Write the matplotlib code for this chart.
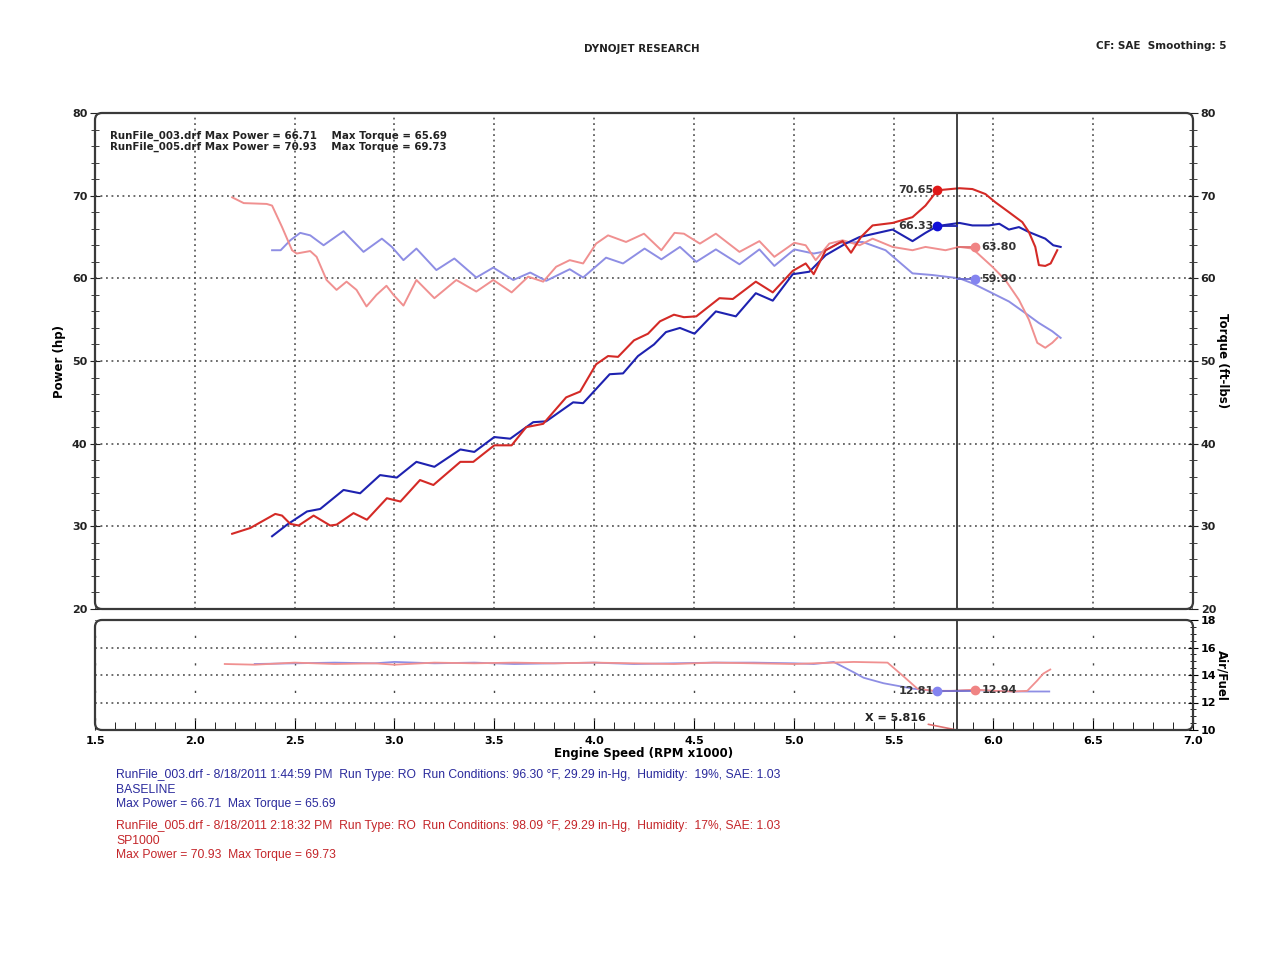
import numpy as np
import matplotlib
matplotlib.use("Agg")
import matplotlib.pyplot as plt
from matplotlib.ticker import MultipleLocator
from matplotlib.patches import FancyBboxPatch
from matplotlib.transforms import IdentityTransform

# ---- data (rpm x1000) ----
pwr_base_rpm = [2.387, 2.462, 2.562, 2.628, 2.745, 2.828, 2.928, 3.012, 3.11, 3.20, 3.33, 3.40,
                3.50, 3.58, 3.695, 3.76, 3.895, 3.945, 4.078, 4.145, 4.22, 4.30, 4.36, 4.43,
                4.503, 4.61, 4.71, 4.81, 4.895, 4.995, 5.078, 5.16, 5.26, 5.33, 5.495, 5.595,
                5.66, 5.72, 5.83, 5.895, 5.978, 6.03, 6.078, 6.128, 6.178, 6.26, 6.30, 6.337]
pwr_base = [28.8, 30.2, 31.8, 32.1, 34.4, 34.0, 36.2, 35.9, 37.8, 37.2, 39.3, 39.0,
            40.8, 40.6, 42.6, 42.7, 45.0, 44.9, 48.4, 48.5, 50.6, 52.0, 53.5, 54.0,
            53.3, 56.0, 55.4, 58.2, 57.3, 60.5, 60.8, 62.8, 64.2, 65.0, 65.9, 64.5,
            65.5, 66.33, 66.7, 66.4, 66.4, 66.6, 65.9, 66.2, 65.6, 64.8, 64.0, 63.8]

pwr_sp_rpm = [2.187, 2.278, 2.403, 2.437, 2.478, 2.52, 2.595, 2.678, 2.71, 2.795, 2.862, 2.962,
              3.03, 3.128, 3.195, 3.33, 3.395, 3.50, 3.587, 3.66, 3.745, 3.86, 3.93, 4.01,
              4.07, 4.12, 4.20, 4.27, 4.33, 4.40, 4.45, 4.512, 4.628, 4.695, 4.81, 4.895,
              4.995, 5.06, 5.10, 5.16, 5.245, 5.287, 5.337, 5.395, 5.495, 5.595, 5.66, 5.72,
              5.83, 5.895, 5.96, 6.01, 6.078, 6.145, 6.178, 6.21, 6.228, 6.26, 6.287, 6.32]
pwr_sp = [29.1, 29.8, 31.5, 31.3, 30.3, 30.1, 31.3, 30.1, 30.2, 31.6, 30.8, 33.4,
          33.0, 35.6, 35.0, 37.8, 37.8, 39.8, 39.8, 42.0, 42.4, 45.6, 46.3, 49.6,
          50.6, 50.5, 52.5, 53.3, 54.8, 55.6, 55.3, 55.4, 57.6, 57.5, 59.6, 58.3,
          60.9, 61.8, 60.5, 63.4, 64.5, 63.1, 65.0, 66.4, 66.7, 67.4, 68.8, 70.65,
          70.9, 70.8, 70.2, 69.2, 68.0, 66.8, 65.6, 63.8, 61.6, 61.5, 61.8, 63.4]

trq_base_rpm = [2.387, 2.43, 2.478, 2.528, 2.578, 2.645, 2.745, 2.845, 2.937, 2.987, 3.045, 3.11,
                3.21, 3.30, 3.41, 3.495, 3.595, 3.68, 3.76, 3.878, 3.945, 4.06, 4.145, 4.253,
                4.337, 4.43, 4.512, 4.61, 4.728, 4.828, 4.903, 5.003, 5.10, 5.145, 5.228, 5.345,
                5.46, 5.595, 5.695, 5.83, 5.895, 5.995, 6.078, 6.16, 6.228, 6.295, 6.337]
trq_base = [63.4, 63.4, 64.6, 65.5, 65.2, 64.0, 65.7, 63.2, 64.8, 63.8, 62.2, 63.6,
            61.0, 62.4, 60.1, 61.3, 59.8, 60.7, 59.7, 61.1, 60.1, 62.5, 61.8, 63.6,
            62.3, 63.8, 62.0, 63.5, 61.7, 63.5, 61.5, 63.5, 63.0, 63.2, 64.3, 64.4,
            63.4, 60.6, 60.4, 60.0, 59.4, 58.2, 57.2, 55.8, 54.6, 53.6, 52.8]

trq_sp_rpm = [2.187, 2.245, 2.36, 2.387, 2.437, 2.487, 2.51, 2.578, 2.61, 2.66, 2.71, 2.76,
              2.81, 2.86, 2.91, 2.96, 2.995, 3.045, 3.11, 3.20, 3.31, 3.41, 3.495, 3.587,
              3.67, 3.745, 3.81, 3.878, 3.945, 4.01, 4.07, 4.16, 4.25, 4.337, 4.403, 4.45,
              4.53, 4.61, 4.728, 4.828, 4.903, 5.003, 5.06, 5.11, 5.178, 5.245, 5.33, 5.395,
              5.495, 5.595, 5.66, 5.76, 5.83, 5.895, 5.995, 6.06, 6.128, 6.178, 6.22, 6.26,
              6.295, 6.32]
trq_sp = [69.8, 69.1, 69.0, 68.8, 66.2, 63.4, 63.0, 63.3, 62.6, 59.8, 58.6, 59.6,
          58.6, 56.6, 58.0, 59.1, 58.0, 56.7, 59.8, 57.6, 59.8, 58.4, 59.8, 58.3,
          60.2, 59.6, 61.4, 62.2, 61.8, 64.2, 65.2, 64.4, 65.4, 63.4, 65.5, 65.4,
          64.2, 65.4, 63.2, 64.5, 62.6, 64.3, 64.0, 62.2, 64.2, 64.6, 64.0, 64.8,
          63.8, 63.4, 63.8, 63.4, 63.8, 63.6, 61.4, 59.8, 57.4, 55.0, 52.2, 51.6,
          52.2, 52.8]

afr_base_rpm = [2.30, 2.5, 2.7, 2.9, 3.0, 3.2, 3.4, 3.6, 3.8, 4.0, 4.2, 4.4, 4.6, 4.8,
                5.0, 5.1, 5.2, 5.3, 5.35, 5.45, 5.6, 5.72, 5.8, 5.9, 6.0, 6.1, 6.28]
afr_base = [14.8, 14.85, 14.9, 14.85, 14.95, 14.85, 14.9, 14.8, 14.85, 14.9, 14.8, 14.85, 14.9, 14.9,
            14.85, 14.8, 14.95, 14.2, 13.8, 13.4, 13.0, 12.81, 12.85, 12.9, 12.85, 12.8, 12.8]
afr_sp_rpm = [2.15, 2.3, 2.5, 2.7, 2.9, 3.0, 3.2, 3.4, 3.6, 3.8, 4.0, 4.2, 4.4, 4.6, 4.8,
              5.0, 5.2, 5.3, 5.47, 5.55, 5.62, 5.7, 5.8, 5.91, 6.0, 6.1, 6.17, 6.22, 6.25, 6.285]
afr_sp = [14.8, 14.75, 14.9, 14.8, 14.85, 14.75, 14.9, 14.85, 14.9, 14.85, 14.9, 14.85, 14.8, 14.9, 14.85,
          14.8, 14.9, 14.95, 14.9, 13.9, 13.0, 12.85, 12.85, 12.94, 12.85, 12.8, 12.85, 13.6, 14.1, 14.4]

cursor_rpm = 5.816

C_RED = "#d42a26"
C_BLUE = "#1e22b0"
C_LRED = "#f09090"
C_LBLUE = "#8e8ee4"
GRID = "#444444"

fig = plt.figure(figsize=(12.8, 9.6), dpi=100)
ax = fig.add_axes([95/1280, 1-609/960, 1098/1280, 496/960])
ax2 = fig.add_axes([95/1280, 1-730/960, 1098/1280, 110/960])

# rounded frames like the Dynojet printout (pixel coordinates)
for (x0, y0, w, h) in [(95, 960-609, 1098, 496), (95, 960-730, 1098, 110)]:
    fig.patches.append(FancyBboxPatch((x0, y0), w, h, boxstyle="round,pad=0,rounding_size=7",
                                      transform=IdentityTransform(), fill=False,
                                      edgecolor="#3a3a3a", linewidth=1.6, zorder=10))

# ---- main power / torque panel ----
ax.plot(trq_base_rpm, trq_base, color=C_LBLUE, lw=1.4, zorder=3)
ax.plot(trq_sp_rpm, trq_sp, color=C_LRED, lw=1.4, zorder=3)
ax.plot(pwr_base_rpm, pwr_base, color=C_BLUE, lw=1.5, zorder=4)
ax.plot(pwr_sp_rpm, pwr_sp, color=C_RED, lw=1.5, zorder=5)

ax.set_xlim(1.5, 7.0)
ax.set_ylim(20, 80)
ax.xaxis.set_major_locator(MultipleLocator(0.5))
ax.yaxis.set_major_locator(MultipleLocator(10))
ax.yaxis.set_minor_locator(MultipleLocator(2))
ax.grid(True, which="major", color=GRID, linestyle=(0, (1.2, 2.4)), linewidth=1.1)
ax.tick_params(axis="x", bottom=False, labelbottom=False)
ax.tick_params(axis="y", which="both", left=True, right=True, labelleft=True, labelright=True,
               direction="inout", labelsize=8, colors="#222222", pad=2)
ax.tick_params(axis="y", which="major", length=7)
ax.tick_params(axis="y", which="minor", length=6)
for lab in ax.get_yticklabels():
    lab.set_fontweight("bold")
for s in ax.spines.values():
    s.set_visible(False)
ax.axvline(cursor_rpm, color="#222222", lw=1.2, zorder=6)

fig.text(60/1280, 1-361/960, "Power (hp)", rotation=90, fontsize=8.5, fontweight="bold",
         ha="center", va="center")
fig.text(1222/1280, 1-361/960, "Torque (ft-lbs)", rotation=-90, fontsize=8.5, fontweight="bold",
         ha="center", va="center")

# cursor readouts
ax.plot([5.72], [70.65], "o", color="#e01818", ms=6, zorder=7)
ax.text(5.70, 70.65, "70.65", ha="right", va="center", fontsize=8, fontweight="bold", color="#333333")
ax.plot([5.72, cursor_rpm], [66.33, 66.33], color=C_BLUE, lw=1.3, zorder=6)
ax.plot([5.72], [66.33], "o", color="#1010d8", ms=6, zorder=7)
ax.text(5.70, 66.33, "66.33", ha="right", va="center", fontsize=8, fontweight="bold", color="#333333")
ax.plot([cursor_rpm, 5.91], [63.80, 63.80], color="#e07070", lw=1.3, zorder=6)
ax.plot([5.91], [63.80], "o", color="#f08484", ms=6, zorder=7)
ax.text(5.94, 63.80, "63.80", ha="left", va="center", fontsize=8, fontweight="bold", color="#333333")
ax.plot([cursor_rpm, 5.91], [59.90, 59.90], color="#6a6ad0", lw=1.3, zorder=6)
ax.plot([5.91], [59.90], "o", color="#8484f0", ms=6, zorder=7)
ax.text(5.94, 59.90, "59.90", ha="left", va="center", fontsize=8, fontweight="bold", color="#333333")

ax.text(15/1098, 0.965, "RunFile_003.drf Max Power = 66.71    Max Torque = 65.69\n"
        "RunFile_005.drf Max Power = 70.93    Max Torque = 69.73",
        transform=ax.transAxes, ha="left", va="top", fontsize=7.4, fontweight="bold",
        color="#222222", linespacing=1.1)

# ---- air / fuel panel ----
ax2.plot(afr_base_rpm, afr_base, color=C_LBLUE, lw=1.3, zorder=3)
ax2.plot(afr_sp_rpm, afr_sp, color=C_LRED, lw=1.3, zorder=3)
ax2.set_xlim(1.5, 7.0)
ax2.set_ylim(10, 18)
ax2.xaxis.set_major_locator(MultipleLocator(0.5))
ax2.xaxis.set_minor_locator(MultipleLocator(0.1))
ax2.yaxis.set_major_locator(MultipleLocator(2))
ax2.yaxis.set_minor_locator(MultipleLocator(0.5))
ax2.grid(True, axis="y", color=GRID, linestyle=(0, (1.2, 2.4)), linewidth=1.1)
ax2.grid(True, axis="x", color=GRID, linestyle=(12.6, (1.6, 18.2)), linewidth=1.0)
ax2.tick_params(axis="x", which="both", direction="in", top=False, labelsize=8, pad=4)
ax2.tick_params(axis="x", which="major", length=7)
ax2.tick_params(axis="x", which="minor", length=6)
ax2.tick_params(axis="y", which="both", left=False, labelleft=False, right=True, labelright=True,
                direction="inout", labelsize=8, pad=2)
ax2.tick_params(axis="y", which="major", length=7)
ax2.tick_params(axis="y", which="minor", length=5)
ax2.set_xticklabels([f"{v:.1f}" for v in ax2.get_xticks()])
for lab in ax2.get_xticklabels() + ax2.get_yticklabels():
    lab.set_fontweight("bold")
for s in ax2.spines.values():
    s.set_visible(False)
ax2.axvline(cursor_rpm, color="#222222", lw=1.2, zorder=6)
ax2.set_xlabel("Engine Speed (RPM x1000)", fontsize=8.5, fontweight="bold", labelpad=1)
fig.text(1222/1280, 1-675/960, "Air/Fuel", rotation=-90, fontsize=8.5, fontweight="bold",
         ha="center", va="center")

ax2.plot([5.72], [12.81], "o", color="#8484f0", ms=6, zorder=7)
ax2.text(5.70, 12.81, "12.81", ha="right", va="center", fontsize=8, fontweight="bold", color="#333333")
ax2.plot([5.72, 5.91], [12.87, 12.87], color="#6a6ad0", lw=1.2, zorder=6)
ax2.plot([5.91], [12.94], "o", color="#f08484", ms=6, zorder=7)
ax2.text(5.94, 12.94, "12.94", ha="left", va="center", fontsize=8, fontweight="bold", color="#333333")
ax2.annotate("X = 5.816", xy=(cursor_rpm, 10), xytext=(5.66, 10.9), ha="right", va="center",
             fontsize=8, fontweight="bold", color="#222222",
             arrowprops=dict(arrowstyle="-", color="#e07070", lw=1.2, shrinkA=0, shrinkB=0))

# ---- header and run notes ----
fig.text(642/1280, 1-49/960, "DYNOJET RESEARCH", ha="center", va="center", fontsize=7.4,
         fontweight="bold", color="#222222")
fig.text(1227/1280, 1-46/960, "CF: SAE  Smoothing: 5", ha="right", va="center", fontsize=7.5,
         fontweight="bold", color="#222222")

NOTE_FONT = "Liberation Sans"
notes_base = ["RunFile_003.drf - 8/18/2011 1:44:59 PM  Run Type: RO  Run Conditions: 96.30 °F, 29.29 in-Hg,  Humidity:  19%, SAE: 1.03",
              "BASELINE",
              "Max Power = 66.71  Max Torque = 65.69"]
notes_sp = ["RunFile_005.drf - 8/18/2011 2:18:32 PM  Run Type: RO  Run Conditions: 98.09 °F, 29.29 in-Hg,  Humidity:  17%, SAE: 1.03",
            "SP1000",
            "Max Power = 70.93  Max Torque = 69.73"]
for i, line in enumerate(notes_base):
    fig.text(116/1280, 1-(775 + 14.7*i)/960, line, ha="left", va="center", fontsize=8.7,
             family=NOTE_FONT, color="#2a2a9c")
for i, line in enumerate(notes_sp):
    fig.text(116/1280, 1-(826 + 14.7*i)/960, line, ha="left", va="center", fontsize=8.7,
             family=NOTE_FONT, color="#c4262a")

fig.savefig("out.png", dpi=100)
